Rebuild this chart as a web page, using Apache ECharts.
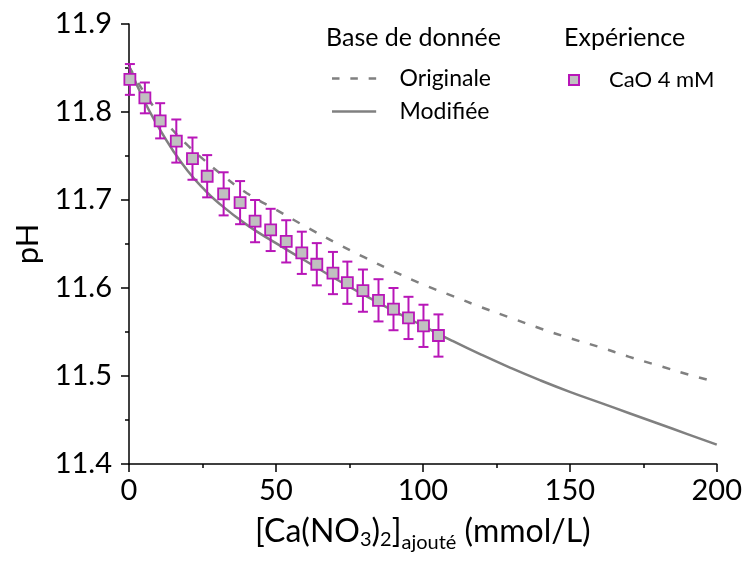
<!DOCTYPE html>
<html>
<head>
<meta charset="utf-8">
<script src="https://cdn.jsdelivr.net/npm/echarts@6/dist/echarts.min.js"></script>
<style>
html,body{margin:0;padding:0;background:#fff;}
#chart{width:745px;height:561px;}
</style>
</head>
<body>
<div id="chart"></div>
<script>
// Experimental data (CaO 4 mM)
const expX = [0.3, 5.4, 10.6, 16.1, 21.6, 26.6, 32.2, 37.8, 42.9, 48.2, 53.5, 58.8, 63.9, 69.4, 74.3, 79.6, 84.9, 90.0, 95.1, 100.2, 105.3];
const expY = [11.837, 11.816, 11.790, 11.767, 11.747, 11.727, 11.707, 11.697, 11.676, 11.666, 11.653, 11.640, 11.627, 11.617, 11.606, 11.597, 11.586, 11.576, 11.566, 11.557, 11.546];
const expErr = [0.0175, 0.0175, 0.020, 0.0245, 0.024, 0.024, 0.0245, 0.0245, 0.024, 0.024, 0.024, 0.024, 0.024, 0.024, 0.024, 0.024, 0.024, 0.024, 0.024, 0.024, 0.024];

// Model curves
const modelX = [0, 5, 10, 15, 20, 25, 30, 40, 50, 60, 70, 80, 90, 100, 110, 120, 130, 140, 150, 160, 170, 180, 190, 200];
const originale = [11.852, 11.823, 11.799, 11.779, 11.762, 11.747, 11.733, 11.708, 11.689, 11.670, 11.652, 11.635, 11.619, 11.604, 11.591, 11.578, 11.566, 11.554, 11.543, 11.533, 11.522, 11.512, 11.502, 11.493];
const modifiee = [11.852, 11.814, 11.783, 11.756, 11.733, 11.714, 11.698, 11.672, 11.651, 11.631, 11.611, 11.592, 11.574, 11.557, 11.540, 11.524, 11.509, 11.495, 11.482, 11.470, 11.458, 11.446, 11.434, 11.422];

const xTicks = [0, 50, 100, 150, 200];
const yTicks = [11.4, 11.5, 11.6, 11.7, 11.8, 11.9];

const FONT = 'Lato';
const MAG = '#B816B8';
const GRAY = '#808080';

const chart = echarts.init(document.getElementById('chart'), null, {renderer: 'canvas'});

const option = {
  backgroundColor: '#fff',
  animation: false,
  textStyle: {fontFamily: FONT},
  grid: {left: 129, right: 28, top: 24, bottom: 97, containLabel: false},
  xAxis: {
    type: 'value',
    min: xTicks[0], max: xTicks[xTicks.length - 1], interval: 50,
    axisLine: {lineStyle: {color: '#000', width: 1.5}},
    axisTick: {show: true, inside: false, length: 8, lineStyle: {color: '#000', width: 1.5}},
    minorTick: {show: true, splitNumber: 2, length: 4, lineStyle: {color: '#000', width: 1.5}},
    splitLine: {show: false},
    axisLabel: {fontSize: 29, color: '#000', margin: 12, fontFamily: FONT},
    name: '{m|[Ca(NO}{s|3}{m|)}{s|2}{m|]}{a|ajouté}{m| (mmol/L)}',
    nameLocation: 'middle',
    nameGap: 50,
    nameTextStyle: {
      rich: {
        m: {fontSize: 32, color: '#000', fontFamily: FONT, lineHeight: 36},
        s: {fontSize: 20, color: '#000', fontFamily: FONT, lineHeight: 36, padding: [16, 0, 0, 0]},
        a: {fontSize: 20, color: '#000', fontFamily: FONT, lineHeight: 36, padding: [22, 0, 0, 0]}
      }
    }
  },
  yAxis: {
    type: 'value',
    min: yTicks[0], max: yTicks[yTicks.length - 1], interval: 0.1,
    axisLine: {show: true, lineStyle: {color: '#000', width: 1.5}},
    axisTick: {show: true, inside: false, length: 8, lineStyle: {color: '#000', width: 1.5}},
    minorTick: {show: true, splitNumber: 2, length: 4, lineStyle: {color: '#000', width: 1.5}},
    splitLine: {show: false},
    axisLabel: {fontSize: 29, color: '#000', margin: 17, fontFamily: FONT, formatter: v => v.toFixed(1)},
    name: 'pH',
    nameLocation: 'middle',
    nameGap: 84,
    nameTextStyle: {fontSize: 31, color: '#000', fontFamily: FONT}
  },
  legend: [
    {
      data: [
        {name: 'Originale', icon: 'path://M0,0h9v3h-9z M22,0h9v3h-9z M44,0h9v3h-9z'},
        {name: 'Modifiée', icon: 'path://M0,0h53v3h-53z'}
      ],
      orient: 'vertical',
      left: 327, top: 62,
      itemWidth: 53, itemHeight: 2.5,
      itemGap: 10,
      textStyle: {fontSize: 23, color: '#000', fontFamily: FONT, padding: [0, 0, 0, 14]}
    },
    {
      data: ['CaO 4 mM'],
      orient: 'vertical',
      left: 563, top: 64,
      itemWidth: 10, itemHeight: 10,
      textStyle: {fontSize: 22, color: '#000', fontFamily: FONT, padding: [0, 0, 0, 25]}
    }
  ],
  graphic: [
    {type: 'text', left: 326, top: 25, style: {text: 'Base de donnée', font: '25px Lato', fill: '#000'}},
    {type: 'text', left: 564, top: 25, style: {text: 'Expérience', font: '25px Lato', fill: '#000'}}
  ],
  series: [
    {
      name: 'Originale',
      type: 'line',
      smooth: true,
      symbol: 'none',
      data: modelX.map((x, i) => [x, originale[i]]),
      lineStyle: {color: GRAY, width: 2.5, type: [8, 11]},
      itemStyle: {color: GRAY},
      z: 2
    },
    {
      name: 'Modifiée',
      type: 'line',
      smooth: true,
      symbol: 'none',
      data: modelX.map((x, i) => [x, modifiee[i]]),
      lineStyle: {color: GRAY, width: 2.5},
      itemStyle: {color: GRAY},
      z: 2
    },
    {
      name: 'errbars',
      type: 'custom',
      data: expX.map((x, i) => [x, expY[i] - expErr[i], expY[i] + expErr[i]]),
      renderItem: function (params, api) {
        const x = api.value(0);
        const lo = api.coord([x, api.value(1)]);
        const hi = api.coord([x, api.value(2)]);
        const hw = 5;
        const st = {stroke: MAG, lineWidth: 2};
        return {
          type: 'group',
          children: [
            {type: 'line', shape: {x1: lo[0], y1: lo[1], x2: hi[0], y2: hi[1]}, style: st},
            {type: 'line', shape: {x1: lo[0] - hw, y1: lo[1], x2: lo[0] + hw, y2: lo[1]}, style: st},
            {type: 'line', shape: {x1: hi[0] - hw, y1: hi[1], x2: hi[0] + hw, y2: hi[1]}, style: st}
          ]
        };
      },
      z: 3
    },
    {
      name: 'CaO 4 mM',
      type: 'scatter',
      symbol: 'rect',
      symbolSize: 11,
      data: expX.map((x, i) => [x, expY[i]]),
      itemStyle: {color: '#C0C0C0', borderColor: MAG, borderWidth: 1.8, opacity: 1},
      z: 4
    }
  ]
};
chart.setOption(option);
</script>
</body>
</html>
